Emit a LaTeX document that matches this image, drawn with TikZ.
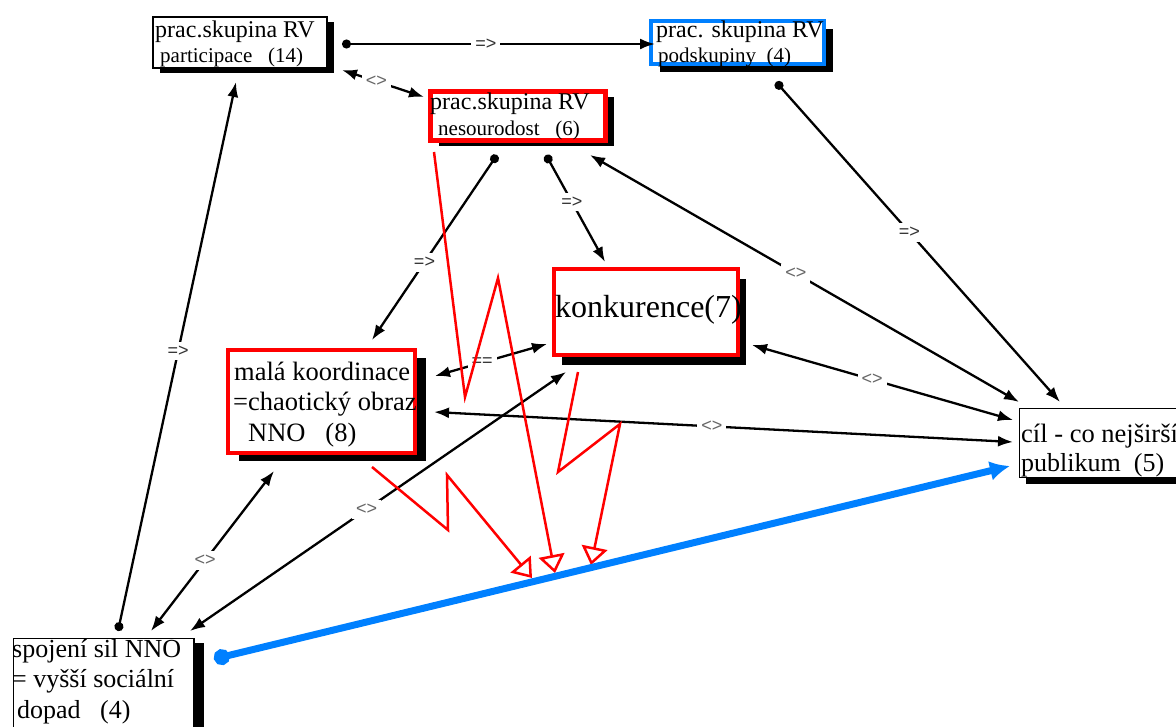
\documentclass[tikz,border=0pt]{standalone}
\usepackage{fontspec}
\setmainfont{Liberation Serif}
\newfontfamily\lblfont{Liberation Sans}
\usetikzlibrary{arrows.meta,shadows}
\definecolor{rvblue}{RGB}{0,128,255}
\definecolor{rvred}{RGB}{255,0,0}
\begin{document}
\begin{tikzpicture}[x=1pt,y=-1pt,
  box/.style={draw=black, line width=1.5pt, fill=white, anchor=north west, inner sep=0pt},
  redbox/.style={box, draw=rvred, line width=4.5pt},
  bluebox/.style={box, draw=rvblue, line width=4pt},
  shd/.style 2 args={drop shadow={shadow xshift=#1pt, shadow yshift=-#2pt, fill=black, opacity=1}},
  txt/.style={anchor=base west, inner sep=0pt},
  big/.style={font=\fontsize{24}{24}\selectfont},
  small/.style={font=\fontsize{21}{21}\selectfont},
  mid/.style={font=\fontsize{26.5}{26.5}\selectfont},
  conn/.style={line width=2.3pt, draw=black},
  arr/.style={conn, -{Latex[length=15pt,width=11pt]}},
  twoway/.style={conn, {Latex[length=15pt,width=11pt]}-{Latex[length=15pt,width=11pt]}},
  dotarr/.style={conn, {Circle[length=9pt]}-{Latex[length=15pt,width=11pt]}},
  lbl/.style={fill=white, inner sep=4pt, text=black!80, font=\lblfont\fontsize{18}{18}\selectfont},
  lblb/.style={lbl, text=black!60},
  zig/.style={draw=rvred, line width=2.5pt, line join=miter, -{Triangle[open,length=18pt,width=26pt]}},
  bluearr/.style={draw=rvblue, line width=7pt, {Circle[length=16pt]}-{Latex[length=20pt,width=20pt]}}
]
\useasboundingbox (0,0) rectangle (1176,726);

% boxes
\node[box, shd={7}{5}, minimum width=174pt, minimum height=51pt] (A) at (152,16) {};
\node[bluebox, shd={9}{8}, minimum width=173pt, minimum height=43pt] (B) at (649,19) {};
\node[redbox, shd={9}{6}, minimum width=175pt, minimum height=49pt] (C) at (428,89) {};
\node[redbox, shd={8}{10}, minimum width=184pt, minimum height=86pt] (D) at (551.5,266.5) {};
\node[redbox, shd={11}{8}, minimum width=187pt, minimum height=103pt] (E) at (225.5,347.5) {};
\node[box, shd={6}{6}, minimum width=220pt, minimum height=69pt] (F) at (1018.75,407.75) {};
\node[box, shd={10}{4}, minimum width=180.5pt, minimum height=130pt] (G) at (12.75,637.75) {};

% texts
\node[txt, big]   (A1) at (155,37) {prac.skupina RV};
\node[txt, small] (A2) at (160,62.5) {participace\ \ \ (14)};
\node[txt, big]   (B1) at (656,37) {prac. skupina RV};
\node[txt, small] (B2) at (658,62.5) {podskupiny\ \ (4)};
\node[txt, big]   (C1) at (430,109) {prac.skupina RV};
\node[txt, small] (C2) at (438,135) {nesourodost\ \ \ (6)};
\node[txt, font=\fontsize{32}{32}\selectfont] (D1) at (555,317) {konkurence(7)};
\node[txt, mid] (E1) at (234,380) {malá koordinace};
\node[txt, mid] (E2) at (233,410) {=chaotický obraz};
\node[txt, mid] (E3) at (248,441.5) {NNO\ \ \ (8)};
\node[txt, font=\fontsize{26.5}{26.5}\selectfont] (F1) at (1021,442) {cíl - co nejširší};
\node[txt, font=\fontsize{26}{26}\selectfont] (F2) at (1021,471) {publikum\ \ (5)};
\node[txt, font=\fontsize{26}{26}\selectfont] (G1) at (12,657) {spojení sil NNO};
\node[txt, font=\fontsize{26}{26}\selectfont] (G2) at (12,687) {= vyšší sociální};
\node[txt, font=\fontsize{26}{26}\selectfont] (G3) at (17,718) {dopad\ \ \ (4)};

% connector end points
\coordinate (ab1) at (342,44);   \coordinate (ab2) at (655,44);
\coordinate (ac1) at (342,70);   \coordinate (ac2) at (424,97);
\coordinate (ce1) at (497,155);  \coordinate (ce2) at (372,340);
\coordinate (cd1) at (546,155);  \coordinate (cd2) at (605,262);
\coordinate (cf1) at (590,155);  \coordinate (cf2) at (1019,402);
\coordinate (bf1) at (776,82);   \coordinate (bf2) at (1060,402);
\coordinate (df1) at (752,345);  \coordinate (df2) at (1013,420);
\coordinate (ef1) at (434,412);  \coordinate (ef2) at (1013,442);
\coordinate (ed1) at (435,376);  \coordinate (ed2) at (547,344);
\coordinate (gd1) at (190,631);  \coordinate (gd2) at (566,372);
\coordinate (ge1) at (151,631);  \coordinate (ge2) at (274,471);
\coordinate (ga1) at (118,631);  \coordinate (ga2) at (236,82);
\coordinate (gf1) at (214,659);  \coordinate (gf2) at (1010,466);

% black connectors
\draw[dotarr] (ab1) -- node[lbl, pos=0.46] (l1) {=>} (ab2);
\draw[twoway] (ac1) -- node[lblb, pos=0.42] (l2) {<>} (ac2);
\draw[dotarr] (ce1) -- node[lbl, pos=0.58] (l3) {=>} (ce2);
\draw[dotarr] (cd1) -- node[lbl, pos=0.44] (l4) {=>} (cd2);
\draw[twoway] (cf1) -- node[lblb, pos=0.48] (l5) {<>} (cf2);
\draw[dotarr] (bf1) -- node[lbl, pos=0.47] (l6) {=>} (bf2);
\draw[twoway] (df1) -- node[lblb, pos=0.46] (l7) {<>} (df2);
\draw[twoway] (ef1) -- node[lblb, pos=0.48] (l8) {<>} (ef2);
\draw[twoway] (ed1) -- node[lbl, pos=0.42] (l9) {==} (ed2);
\draw[twoway] (gd1) -- node[lblb, pos=0.47] (l10) {<>} (gd2);
\draw[twoway] (ge1) -- node[lblb, pos=0.44] (l11) {<>} (ge2);
\draw[dotarr] (ga1) -- node[lbl, pos=0.51] (l12) {=>} (ga2);

% red lightning arrows
\coordinate (r1a) at (434,152); \coordinate (r1b) at (465,397); \coordinate (r1c) at (498,278); \coordinate (r1d) at (555,573);
\coordinate (r2a) at (578,372); \coordinate (r2b) at (558,472); \coordinate (r2c) at (620,424); \coordinate (r2d) at (591,565);
\coordinate (r3a) at (372,467); \coordinate (r3b) at (448,530); \coordinate (r3c) at (447,475); \coordinate (r3d) at (532,578);
\draw[zig] (r1a) -- (r1b) -- (r1c) -- (r1d);
\draw[zig] (r2a) -- (r2b) -- (r2c) -- (r2d);
\draw[zig] (r3a) -- (r3b) -- (r3c) -- (r3d);

% blue arrow
\draw[bluearr] (gf1) -- (gf2);
\end{tikzpicture}
\end{document}
